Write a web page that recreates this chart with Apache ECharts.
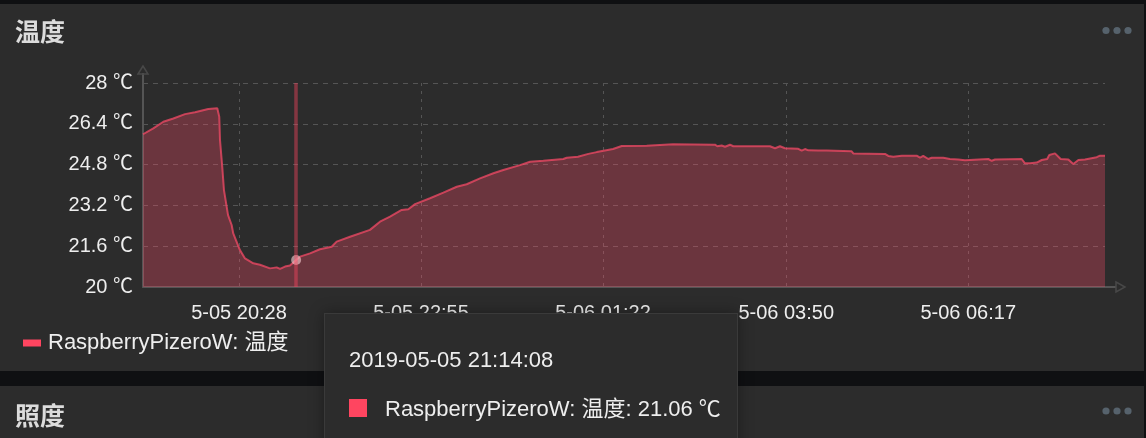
<!DOCTYPE html>
<html>
<head>
<meta charset="utf-8">
<style>
  html, body { margin: 0; padding: 0; background: #0f1012; overflow: hidden; }
  .panel { position: absolute; left: 0; width: 1144px; background: #2c2c2c; }
  #main { position: absolute; left: 0; top: 0; width: 1146px; height: 438px; }
</style>
<script src="https://cdn.jsdelivr.net/npm/echarts@6/dist/echarts.min.js"></script>
</head>
<body>
<div class="panel" style="top:4px;height:367px"></div>
<div class="panel" style="top:386px;height:52px"></div>
<div id="main"></div>
<script>
const fontFamily = '"Liberation Sans", "Noto Sans CJK SC", sans-serif';
const seriesName = 'RaspberryPizeroW: 温度';
const startTime = '2019-05-05 19:10:28';
const endMinute = 777;

// minutes after startTime
const minutes = [0, 8.3, 16.4, 24.5, 33.9, 42, 52.7, 60, 61.6, 62.2, 64, 65.4, 68.7, 71.6, 72.9, 78.3, 82.4, 89.1, 94.5, 102.6,
  108, 110.7, 114.7, 118.7, 123.667, 126.8, 134.9, 142.9, 152.4, 156.4, 167.2, 183.3, 191.4, 199.5, 208.9, 214.3, 219.7, 231.8,
  242.6, 253.4, 261.4, 272.2, 283, 291, 304.5, 312.6, 323.3, 324.7, 339.5, 342.2, 351.3, 359.7, 366.5, 379.6, 386.7, 406.8,
  407.9, 428.1, 462, 463.9, 467.4, 470.1, 474.1, 476.8, 506.4, 510.5, 514.5, 518.5, 529.3, 532, 534.7, 537.4, 545.4, 552.2,
  572.4, 573.7, 599.3, 602, 606, 612.8, 624.9, 627.6, 630.2, 634.3, 637, 646.4, 651.7, 658.5, 663.9, 665.3, 682.7, 685.5,
  688.1, 709.7, 712.4, 716.4, 721.8, 725.9, 730.3, 732, 736.6, 741.2, 747.4, 751.4, 755.5, 760.8, 762.2, 770.3, 773, 777];
const temps = [25.99, 26.22, 26.48, 26.61, 26.78, 26.85, 26.98, 27.01, 26.68, 25.76, 24.72, 23.8, 22.82, 22.43, 22.1, 21.45, 21.12, 20.93, 20.87, 20.73,
  20.77, 20.71, 20.8, 20.84, 21.06, 21.19, 21.32, 21.48, 21.58, 21.78, 21.97, 22.24, 22.56, 22.76, 23.02, 23.05, 23.25, 23.48,
  23.7, 23.93, 24.03, 24.26, 24.46, 24.59, 24.78, 24.91, 24.95, 25.02, 25.02, 25.07, 25.11, 25.22, 25.29, 25.41, 25.53, 25.54,
  25.58, 25.6, 25.58, 25.52, 25.55, 25.5, 25.58, 25.52, 25.52, 25.44, 25.52, 25.44, 25.42, 25.35, 25.41, 25.36, 25.35, 25.35,
  25.32, 25.24, 25.22, 25.14, 25.11, 25.15, 25.15, 25.07, 25.14, 25.02, 25.07, 25.07, 25.02, 25, 24.97, 25.02, 25.02, 24.95,
  25, 25.02, 24.85, 24.85, 24.88, 24.98, 25.02, 25.18, 25.24, 25.02, 25, 24.82, 24.98, 25, 25.07, 25.09, 25.15, 25.15];
const hoverIndex = 24;

const xTicks = ['2019-05-05 20:28', '2019-05-05 22:55', '2019-05-06 01:22', '2019-05-06 03:50', '2019-05-06 06:17'];
const yTicks = [20, 21.6, 23.2, 24.8, 26.4, 28];

const t0 = new Date(startTime.replace(' ', 'T')).getTime();
const xTickValues = xTicks.map(s => new Date(s.replace(' ', 'T') + ':00').getTime());
const points = minutes.map((m, i) => [t0 + m * 60000, temps[i]]);

const chart = echarts.init(document.getElementById('main'), null, { renderer: 'canvas' });

const dots = [30.5, 411].flatMap(y => [1106, 1117, 1128].map(x => ({
  type: 'circle', shape: { cx: x, cy: y, r: 3.6 }, style: { fill: '#56626c' }, silent: true
})));

chart.setOption({
  animation: false,
  backgroundColor: 'transparent',
  textStyle: { fontFamily },
  title: [
    { text: '温度', left: 15, top: 22, padding: 0, textStyle: { color: '#dcdcdc', fontSize: 25, fontWeight: 'bold', fontFamily } },
    { text: '照度', left: 15, top: 406, padding: 0, textStyle: { color: '#dcdcdc', fontSize: 25, fontWeight: 'bold', fontFamily } }
  ],
  legend: {
    left: 23, top: 332, padding: 0, itemWidth: 18, itemHeight: 7, itemGap: 6, icon: 'rect',
    textStyle: { color: '#eeeeee', fontSize: 22, fontFamily, padding: [0, 0, 0, 2] },
    data: [seriesName]
  },
  grid: { left: 143, right: 41, top: 83, bottom: 151, containLabel: false },
  tooltip: {
    trigger: 'axis',
    showDelay: 0,
    transitionDuration: 0,
    position: [324, 313],
    backgroundColor: '#2c2c2c',
    borderColor: '#3a3a3a',
    borderWidth: 1,
    padding: 0,
    extraCssText: 'border-radius:0;box-shadow:0 0 14px rgba(0,0,0,.35);',
    axisPointer: { type: 'line', snap: true, label: { show: false }, lineStyle: { type: 'solid', width: 3.5, color: 'rgba(255,69,96,.42)' } },
    formatter: params => {
      const p = params[0];
      return '<div style="box-sizing:border-box;width:412px;height:150px;padding:33px 24px 0;font:22px ' + fontFamily.replace(/"/g, "'") + ';color:#eeeeee">'
        + '<div style="line-height:26px">' + echarts.time.format(p.value[0], '{yyyy}-{MM}-{dd} {HH}:{mm}:{ss}') + '</div>'
        + '<div style="margin-top:23px;line-height:26px;white-space:nowrap"><span style="display:inline-block;width:18px;height:18px;background:#ff4560;margin-right:18px;vertical-align:-1px"></span>'
        + p.seriesName + ': ' + p.value[1] + ' ℃</div></div>';
    }
  },
  xAxis: {
    type: 'value',
    min: t0,
    max: t0 + endMinute * 60000,
    axisLine: { onZero: false, lineStyle: { color: '#555555', width: 2 } },
    axisTick: { show: false, customValues: xTickValues },
    axisLabel: {
      customValues: xTickValues,
      color: '#eeeeee', fontSize: 20, fontFamily, margin: 16,
      hideOverlap: false,
      formatter: v => echarts.time.format(v, '{M}-{dd} {HH}:{mm}')
    },
    splitLine: { show: true, lineStyle: { type: [3, 5], color: '#555555', width: 1 } }
  },
  yAxis: {
    type: 'value',
    min: 20,
    max: 28,
    axisLine: { show: true, onZero: false, lineStyle: { color: '#555555', width: 2 } },
    axisTick: { show: false, customValues: yTicks },
    axisLabel: { customValues: yTicks, color: '#eeeeee', fontSize: 20, fontFamily, margin: 10, formatter: v => v + ' ℃' },
    splitLine: { show: true, lineStyle: { type: [5, 5], color: '#555555', width: 1 } }
  },
  series: [{
    name: seriesName,
    type: 'line',
    data: points,
    showSymbol: false,
    symbol: 'circle',
    symbolSize: 10,
    itemStyle: { color: '#ff4560' },
    lineStyle: { color: '#ff4560', width: 2, opacity: 0.7 },
    areaStyle: { color: '#ff4560', opacity: 0.3 },
    emphasis: {
      scale: false,
      lineStyle: { width: 2 },
      itemStyle: { color: '#f0c4ca', opacity: 0.65, borderWidth: 0 }
    }
  }],
  graphic: [
    ...dots,
    { type: 'line', shape: { x1: 1105, y1: 287, x2: 1116, y2: 287 }, style: { stroke: '#555555', lineWidth: 2 }, silent: true },
    { type: 'line', shape: { x1: 143, y1: 83, x2: 143, y2: 73 }, style: { stroke: '#555555', lineWidth: 2 }, silent: true },
    { type: 'polygon', shape: { points: [[1116, 282], [1125, 287], [1116, 292]] }, style: { fill: 'none', stroke: '#484848', lineWidth: 1.5 }, silent: true },
    { type: 'polygon', shape: { points: [[138, 74], [143, 66], [148, 74]] }, style: { fill: 'none', stroke: '#484848', lineWidth: 1.5 }, silent: true }
  ]
});

chart.dispatchAction({ type: 'showTip', seriesIndex: 0, dataIndex: hoverIndex });
</script>
</body>
</html>
